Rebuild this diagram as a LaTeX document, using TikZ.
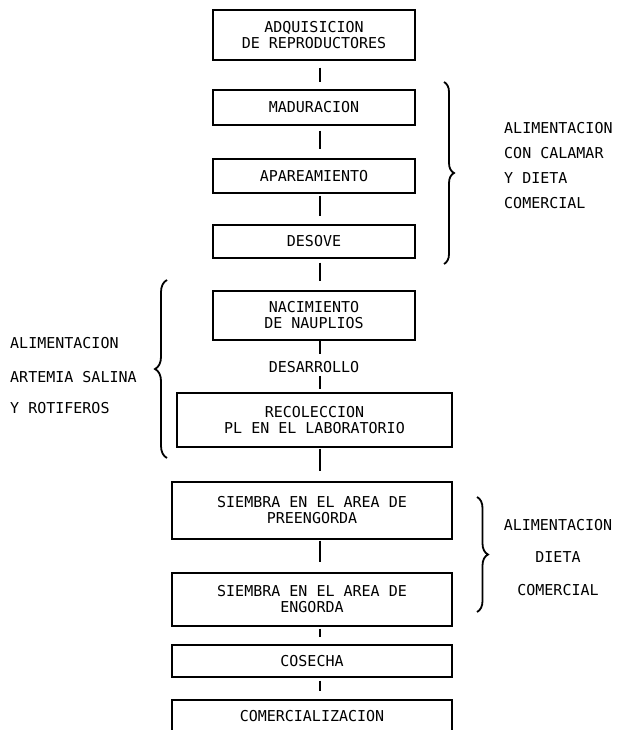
\documentclass[tikz,border=0pt]{standalone}
\usepackage{fontspec}
\setmainfont{DejaVu Sans Mono}
\usetikzlibrary{decorations.pathreplacing}
\begin{document}
\begin{tikzpicture}[x=1pt,y=-1pt,
  box/.style={draw, line width=1.2pt, align=center, inner sep=0pt,
              font=\fontsize{15}{16}\selectfont},
  txt/.style={inner sep=2pt, font=\fontsize{15}{16}\selectfont},
  conn/.style={line width=1.8pt},
  brc/.style={line width=1.8pt, decorate, decoration={brace, amplitude=#1}}]
\fill[white] (0,0) rectangle (616,730);
\clip (0,0) rectangle (616,730);
% main column
\node[box, minimum width=202pt, minimum height=50pt] (adq) at (314,35) {ADQUISICION\\DE REPRODUCTORES};
\node[box, minimum width=202pt, minimum height=35pt] (mad) at (314,107.5) {MADURACION};
\node[box, minimum width=202pt, minimum height=34pt] (apa) at (314,176) {APAREAMIENTO};
\node[box, minimum width=202pt, minimum height=33pt] (des) at (314,241.5) {DESOVE};
\node[box, minimum width=202pt, minimum height=49pt] (nac) at (314,315.5) {NACIMIENTO\\DE NAUPLIOS};
\node[txt] (dsr) at (314,367) {DESARROLLO};
\node[box, minimum width=275pt, minimum height=54pt] (rec) at (314.5,420) {RECOLECCION\\PL EN EL LABORATORIO};
\node[box, minimum width=280pt, minimum height=57pt] (sie1) at (312,510.5) {SIEMBRA EN EL AREA DE\\PREENGORDA};
\node[box, minimum width=280pt, minimum height=53pt] (sie2) at (312,599.5) {SIEMBRA EN EL AREA DE\\ENGORDA};
\node[box, minimum width=280pt, minimum height=32pt] (cos) at (312,661) {COSECHA};
\node[box, minimum width=280pt, minimum height=32pt] (com) at (312,716) {COMERCIALIZACION};
% connectors
\draw[conn, shorten <=7pt, shorten >=7pt] ([xshift=6pt]adq.south) -- ([xshift=6pt]adq.south |- mad.north);
\draw[conn, shorten <=5pt, shorten >=9pt] ([xshift=6pt]mad.south) -- ([xshift=6pt]mad.south |- apa.north);
\draw[conn, shorten <=2pt, shorten >=8pt] ([xshift=6pt]apa.south) -- ([xshift=6pt]apa.south |- des.north);
\draw[conn, shorten <=4pt, shorten >=9pt] ([xshift=6pt]des.south) -- ([xshift=6pt]des.south |- nac.north);
\draw[conn, shorten >=5pt] ([xshift=6pt]nac.south) -- ([xshift=6pt]nac.south |- dsr.north);
\draw[conn, shorten <=1pt, shorten >=3pt] ([xshift=6pt]nac.south |- dsr.south) -- ([xshift=6pt]nac.south |- rec.north);
\draw[conn, shorten <=1pt, shorten >=10pt] ([xshift=5.5pt]rec.south) -- ([xshift=5.5pt]rec.south |- sie1.north);
\draw[conn, shorten <=1pt, shorten >=10pt] ([xshift=8pt]sie1.south) -- ([xshift=8pt]sie1.south |- sie2.north);
\draw[conn, shorten <=2pt, shorten >=7pt] ([xshift=8pt]sie2.south) -- ([xshift=8pt]sie2.south |- cos.north);
\draw[conn, shorten <=3pt, shorten >=8pt] ([xshift=8pt]cos.south) -- ([xshift=8pt]cos.south |- com.north);
% braces
\coordinate (b1t) at (444,82);
\coordinate (b1b) at (444,264);
\draw[brc=10pt] (b1t) -- (b1b);
\coordinate (b2b) at (167,458);
\coordinate (b2t) at (167,280);
\draw[brc=12pt] (b2b) -- (b2t);
\coordinate (b3t) at (477,497);
\coordinate (b3b) at (477,612);
\draw[brc=11pt] (b3t) -- (b3b);
% brace labels
\node[txt, anchor=west] (r1a) at (502,128) {ALIMENTACION};
\node[txt, anchor=west] (r1b) at (502,153) {CON CALAMAR};
\node[txt, anchor=west] (r1c) at (502,178) {Y DIETA};
\node[txt, anchor=west] (r1d) at (502,203) {COMERCIAL};
\node[txt, anchor=west] (l1a) at (8,343) {ALIMENTACION};
\node[txt, anchor=west] (l1b) at (8,377) {ARTEMIA SALINA};
\node[txt, anchor=west] (l1c) at (8,408) {Y ROTIFEROS};
\node[txt] (r3a) at (558,525) {ALIMENTACION};
\node[txt] (r3b) at (558,557) {DIETA};
\node[txt] (r3c) at (558,590) {COMERCIAL};
\end{tikzpicture}
\end{document}
